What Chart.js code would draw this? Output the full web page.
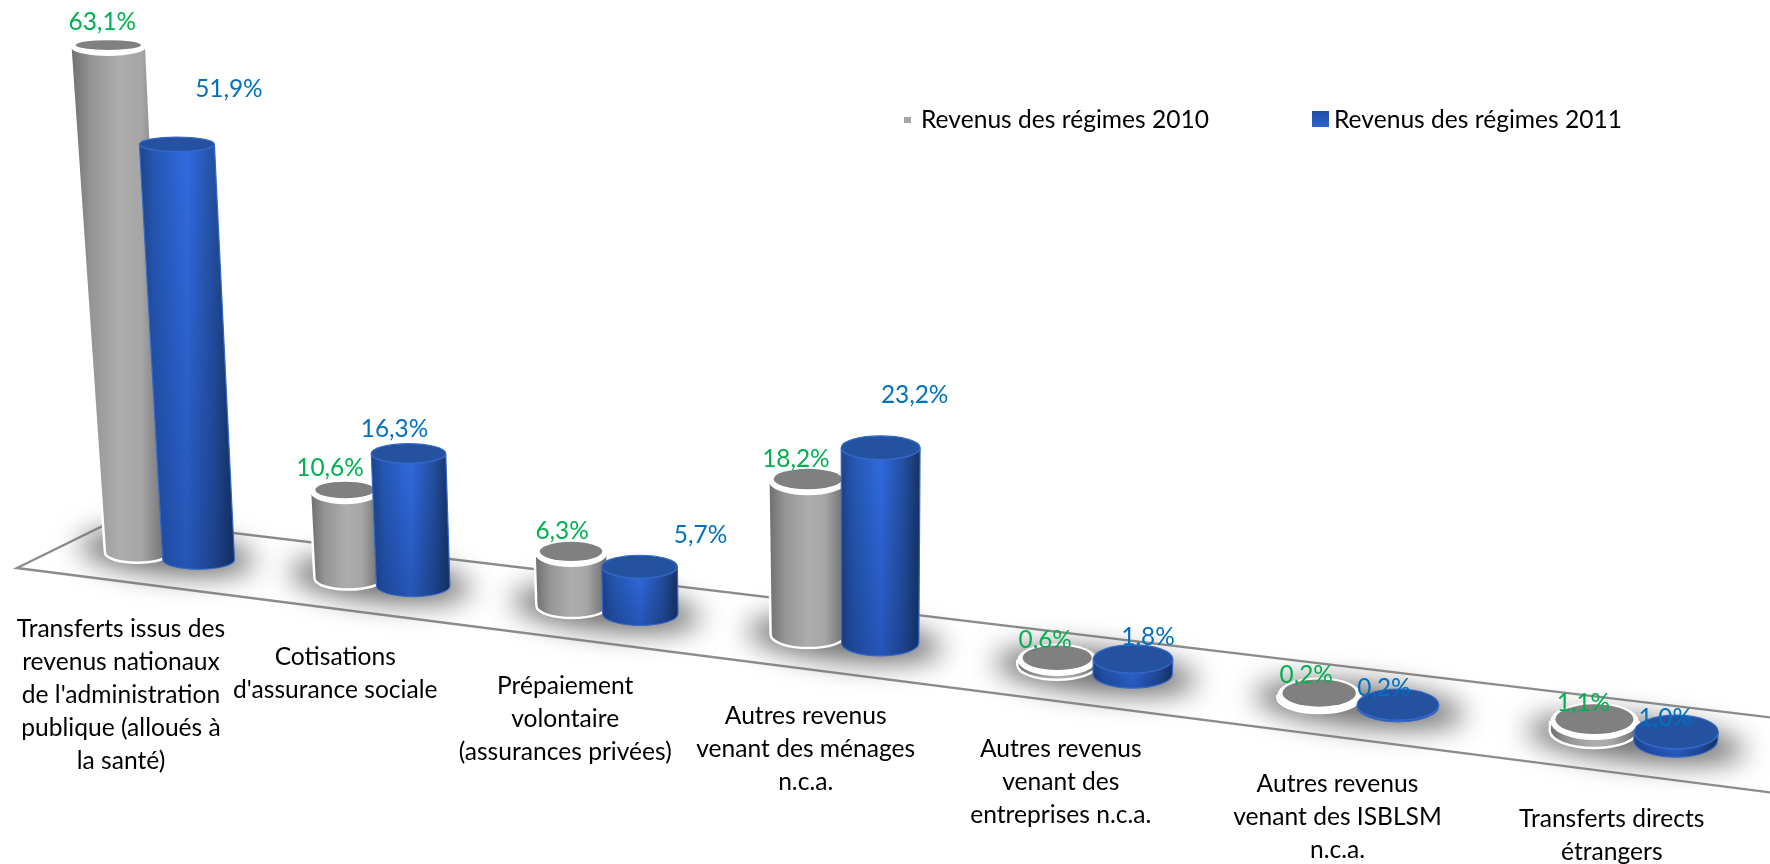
<!DOCTYPE html>
<html><head><meta charset="utf-8">
<style>html,body{margin:0;padding:0;background:#fff}canvas{display:block}</style>
<script src="https://cdn.jsdelivr.net/npm/chart.js@4"></script>
</head><body><canvas id="c" width="1770" height="864"></canvas>
<script>
const categories = [
  ["Transferts issus des","revenus nationaux","de l'administration","publique (alloués à","la santé)"],
  ["Cotisations","d'assurance sociale"],
  ["Prépaiement","volontaire","(assurances privées)"],
  ["Autres revenus","venant des ménages","n.c.a."],
  ["Autres revenus","venant des","entreprises n.c.a."],
  ["Autres revenus","venant des ISBLSM","n.c.a."],
  ["Transferts directs","étrangers"]
];
const series2010 = [63.1, 10.6, 6.3, 18.2, 0.6, 0.2, 1.1];
const series2011 = [51.9, 16.3, 5.7, 23.2, 1.8, 0.2, 1.0];
const seriesNames = ["Revenus des régimes 2010", "Revenus des régimes 2011"];

// label placement relative to the top of each cylinder
const labelOffset2010 = [[-6,-25],[-15,-24],[-9,-22],[-12,-22],[-12,-20],[-13,-20],[-11,-18]];
const labelOffset2011 = [[52,-55],[-14,-24],[61,-32],[34,-53],[15,-22],[-14,-17],[-11,-14]];
const categoryLabelShift = [-45,-44,-40,-38,-34,-21,-23];
// apparent height factor of each position on the floor (depth foreshortening)
const depthFactor = [0.97,0.985,1,1.02,1,1,1];
const FONT = 'Lato, "Open Sans", sans-serif';

// Oblique projection of the floor plane
const P = {
  p0: 166, step: 245,
  centre(p){ const i=(p-this.p0)/this.step; return this.p0+207*i+6.3*i*i; },
  spread(x){ return 63.5+0.0112*x; },
  frontY(x){ return 544+0.1272*x; },
  baseW: [x=>60+0.0163*x, x=>70+0.0083*x],
  taper: [0.022,0.008],
  lean(x){ return (x-850)*0.00008; },
  floorRy(x){ return 8.5+0.005*x; },
  rimShift(x){ return Math.max(0,4.5*(1-x/1100)); }
};
function geom(el){
  const mid=P.centre(el.$scaleX.getPixelForTick(el.$cat));
  const s=el.$series;
  let xb=mid+(s===0?-1:1)*P.spread(mid)/2;
  if(s===0) xb+=P.rimShift(xb);
  const h=(el.base-el.y)*depthFactor[el.$cat];
  const yb=P.frontY(xb);
  const wb=P.baseW[s](xb)/2;
  const ryb=P.floorRy(xb);
  const ryt=Math.max(4,ryb-0.0055*h);
  const xt=xb+P.lean(xb)*h;
  const wt=wb+P.taper[s]*h/2;
  const yt=yb-h-ryt;
  return {mid,xb,xt,wb,wt,ryb,ryt,yb:yb-ryb,yt,h};
}
function bodyPath(ctx,g){
  ctx.beginPath();
  ctx.moveTo(g.xt-g.wt,g.yt);
  ctx.lineTo(g.xb-g.wb,g.yb);
  ctx.ellipse(g.xb,g.yb,g.wb,g.ryb,0,Math.PI,0,true);
  ctx.lineTo(g.xt+g.wt,g.yt);
  ctx.ellipse(g.xt,g.yt,g.wt,g.ryt,0,0,Math.PI,false);
  ctx.closePath();
}
class CylinderElement extends Chart.BarElement {
  static id='cylinder';
  static defaults={...Chart.BarElement.defaults};
  draw(ctx){
    const g=geom(this), gray=this.$series===0;
    ctx.save();
    const l=Math.min(g.xb-g.wb,g.xt-g.wt), r=Math.max(g.xb+g.wb,g.xt+g.wt);
    if(gray){
      bodyPath(ctx,g); ctx.lineWidth=5; ctx.strokeStyle='#fff'; ctx.stroke();
      const gr=ctx.createLinearGradient(l,0,r,0);
      gr.addColorStop(0,'#707070');gr.addColorStop(.2,'#959595');gr.addColorStop(.5,'#adadad');
      gr.addColorStop(.72,'#a6a6a6');gr.addColorStop(1,'#6b6b6b');
      bodyPath(ctx,g); ctx.fillStyle=gr; ctx.fill();
      ctx.beginPath();ctx.ellipse(g.xt,g.yt,g.wt+1,g.ryt+2.5,0,0,Math.PI*2);ctx.fillStyle='#fff';ctx.fill();
      ctx.beginPath();ctx.ellipse(g.xt,g.yt-2,g.wt-4,Math.max(2,g.ryt-1.5),0,0,Math.PI*2);ctx.fillStyle='#808080';ctx.fill();
    } else {
      const gr=ctx.createLinearGradient(l,0,r,0);
      gr.addColorStop(0,'#1d4489');gr.addColorStop(.15,'#2557b3');gr.addColorStop(.5,'#316be0');
      gr.addColorStop(.8,'#234f9e');gr.addColorStop(1,'#173262');
      bodyPath(ctx,g); ctx.fillStyle=gr; ctx.fill();
      ctx.save();bodyPath(ctx,g);ctx.clip();
      const v=ctx.createLinearGradient(0,g.yt,0,g.yb+g.ryb);
      v.addColorStop(0,'rgba(10,30,80,0)');v.addColorStop(1,'rgba(10,30,80,.28)');
      ctx.fillStyle=v;ctx.fillRect(l-2,g.yt-g.ryt-2,r-l+4,g.yb-g.yt+g.ryb+g.ryt+4);
      ctx.restore();
      bodyPath(ctx,g); ctx.lineWidth=1.2; ctx.strokeStyle='#3568c8'; ctx.stroke();
      ctx.beginPath();ctx.ellipse(g.xt,g.yt,g.wt,g.ryt,0,0,Math.PI*2);ctx.fillStyle='#24529f';ctx.fill();
      ctx.lineWidth=1.2;ctx.strokeStyle='#3568c8';ctx.stroke();
    }
    ctx.restore();
  }
}
class CylinderController extends Chart.BarController {
  static id='cylinder';
  static defaults={...Chart.BarController.defaults,dataElementType:'cylinder'};
  static overrides=Chart.BarController.overrides;
  draw(){
    this._cachedMeta.data.forEach((el,i)=>{el.$cat=i;el.$series=this.index;el.$scaleX=this._cachedMeta.iScale;});
    super.draw();
  }
}
Chart.register(CylinderElement,CylinderController);

const floorPlugin={
  id:'floor',
  beforeDatasetsDraw(chart){
    const ctx=chart.ctx, W=chart.width;
    ctx.save();
    ctx.beginPath();
    ctx.moveTo(W,792.4);ctx.lineTo(17,568);ctx.lineTo(117,519);ctx.lineTo(W,717.4);
    ctx.lineWidth=2.4;ctx.strokeStyle='#8c8c8c';ctx.lineJoin='miter';ctx.stroke();
    const sc=chart.scales.x;
    categories.forEach((_,i)=>{
      const mid=P.centre(sc.getPixelForTick(i));
      ctx.save();
      ctx.filter='blur(14px)';
      ctx.beginPath();
      ctx.ellipse(mid+1,P.frontY(mid)-12,P.spread(mid)*1.34,21,0.1,0,Math.PI*2);
      ctx.fillStyle='#6c6c6c';ctx.fill();
      ctx.restore();
    });
    ctx.restore();
  },
  afterDatasetsDraw(chart){
    const ctx=chart.ctx, sc=chart.scales.x;
    ctx.save();
    ctx.textAlign='center';ctx.textBaseline='middle';
    // value labels
    ctx.font='24.4px '+FONT;
    [labelOffset2010,labelOffset2011].forEach((off,s)=>{
      ctx.fillStyle=s===0?'#00b050':'#0070c0';
      chart.getDatasetMeta(s).data.forEach((el,i)=>{
        const g=geom(el);
        const v=chart.data.datasets[s].data[i];
        ctx.fillText(v.toFixed(1).replace('.',',')+'%',g.xt+off[i][0],g.yt+off[i][1]);
      });
    });
    // category labels on the floor front
    ctx.fillStyle='#000';ctx.font='24.6px '+FONT;
    chart.data.labels.forEach((lines,i)=>{
      const x=P.centre(sc.getPixelForTick(i))+categoryLabelShift[i];
      const y=614+0.1272*x;
      lines.forEach((t,k)=>ctx.fillText(t,x,y+k*33));
    });
    // legend
    ctx.textAlign='left';ctx.font='24.6px '+FONT;
    ctx.fillStyle='#a6a6a6';ctx.fillRect(904,117,7,6);
    const lg=ctx.createLinearGradient(0,111,0,127);lg.addColorStop(0,'#1f4fa8');lg.addColorStop(1,'#2e62c8');
    ctx.fillStyle=lg;ctx.fillRect(1312,111,17,16);
    ctx.fillStyle='#000';
    ctx.fillText(chart.data.datasets[0].label,921,120);
    ctx.fillText(chart.data.datasets[1].label,1334,120);
    ctx.restore();
  }
};

new Chart(document.getElementById('c').getContext('2d'),{
  type:'cylinder',
  data:{labels:categories,datasets:[
    {label:seriesNames[0],data:series2010,order:2,backgroundColor:'#a6a6a6'},
    {label:seriesNames[1],data:series2011,order:1,backgroundColor:'#2a5fc4'}
  ]},
  plugins:[floorPlugin],
  options:{
    responsive:false,animation:false,events:[],
    layout:{padding:{left:43.5,right:11.5,top:0,bottom:34}},
    plugins:{legend:{display:false},tooltip:{enabled:false}},
    scales:{
      x:{type:'category',display:false,offset:true,grid:{display:false}},
      y:{type:'linear',display:false,min:0,max:100,grid:{display:false}}
    }
  }
});
</script></body></html>
